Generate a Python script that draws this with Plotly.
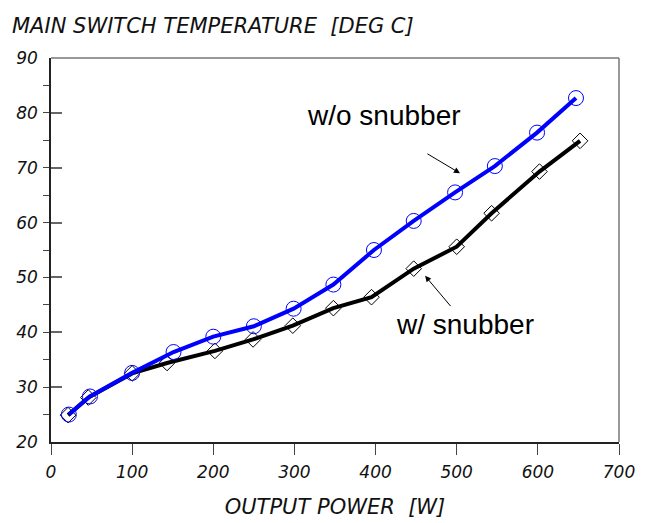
import plotly.graph_objects as go

# Data
x_wo = [22, 48, 100, 151, 200, 250, 299, 348, 398, 447, 498, 547, 599, 647]
y_wo = [25.0, 28.3, 32.6, 36.4, 39.2, 41.1, 44.3, 48.7, 55.0, 60.3, 65.5, 70.3, 76.4, 82.7]

x_w = [21, 46, 100, 143, 202, 249, 298, 348, 395, 447, 500, 543, 602, 652]
y_w = [24.9, 28.1, 32.5, 34.4, 36.6, 38.7, 41.2, 44.4, 46.4, 51.6, 55.6, 61.7, 69.3, 74.9]

x_ticks = [0, 100, 200, 300, 400, 500, 600, 700]
y_ticks = [20, 30, 40, 50, 60, 70, 80, 90]

tick_font = dict(family="DejaVu Sans", size=17, color="#111")
title_font = dict(family="DejaVu Sans", size=21, color="#111")

fig = go.Figure()
fig.add_trace(go.Scatter(
    x=x_w, y=y_w, mode="lines+markers",
    line=dict(color="black", width=4),
    marker=dict(symbol="diamond-open", size=12, color="black", line=dict(width=1)),
    showlegend=False))
fig.add_trace(go.Scatter(
    x=x_wo, y=y_wo, mode="lines+markers",
    line=dict(color="#0000ff", width=4),
    marker=dict(symbol="circle-open", size=15, color="#0000ff", line=dict(width=1)),
    showlegend=False))

# page body has an 8px margin, so the figure is sized/offset to compensate
fig.update_layout(
    width=644, height=515,
    margin=dict(l=43, r=33, t=50, b=81, autoexpand=False),
    plot_bgcolor="white", paper_bgcolor="white",
    title=dict(text="<i>MAIN SWITCH TEMPERATURE  [DEG C]</i>",
               font=title_font,
               x=4/644, xanchor="left", xref="container",
               y=1-18/515, yanchor="middle", yref="container"),
    xaxis=dict(range=[0, 700], tickvals=x_ticks,
               ticktext=[f"<i>{v}</i>" for v in x_ticks],
               ticks="outside", ticklen=11,
               tickcolor="#444", tickwidth=1, automargin=False,
               showline=True, linecolor="#222", linewidth=1.5, showgrid=False,
               zeroline=False, tickfont=tick_font, ticklabelstandoff=3,
               title=dict(text="<i>OUTPUT POWER  [W]</i>", font=title_font, standoff=18)),
    yaxis=dict(range=[20, 90], tickvals=y_ticks,
               ticktext=[f"<i>{v}</i>" for v in y_ticks],
               ticks="inside", ticklen=11,
               tickcolor="#666", tickwidth=2, automargin=False,
               minor=dict(dtick=5, ticks="outside", ticklen=6, tickcolor="#444", tickwidth=1),
               showline=True, linecolor="#222", linewidth=1.5, showgrid=False,
               zeroline=False, tickfont=tick_font, ticklabelstandoff=8),
)

# gray frame top and right
fig.add_shape(type="line", xref="paper", yref="paper", x0=0, x1=1, y0=1, y1=1,
              line=dict(color="#777", width=1.5))
fig.add_shape(type="line", xref="paper", yref="paper", x0=1, x1=1, y0=0, y1=1,
              line=dict(color="#777", width=1.5))

ann_font = dict(family="Liberation Sans, Arial", size=28, color="black")
fig.add_annotation(x=410, y=79.6, text="w/o snubber", showarrow=False, font=ann_font)
fig.add_annotation(x=510, y=41.4, text="w/ snubber", showarrow=False, font=ann_font)
fig.add_annotation(x=504, y=69.0, ax=462, ay=72.7, axref="x", ayref="y", text="",
                   showarrow=True, arrowhead=2, arrowsize=1.2, arrowwidth=1, arrowcolor="black")
fig.add_annotation(x=461, y=50.3, ax=494, ay=44.5, axref="x", ayref="y", text="",
                   showarrow=True, arrowhead=2, arrowsize=1.2, arrowwidth=1, arrowcolor="black")

fig.write_html("out.html")
